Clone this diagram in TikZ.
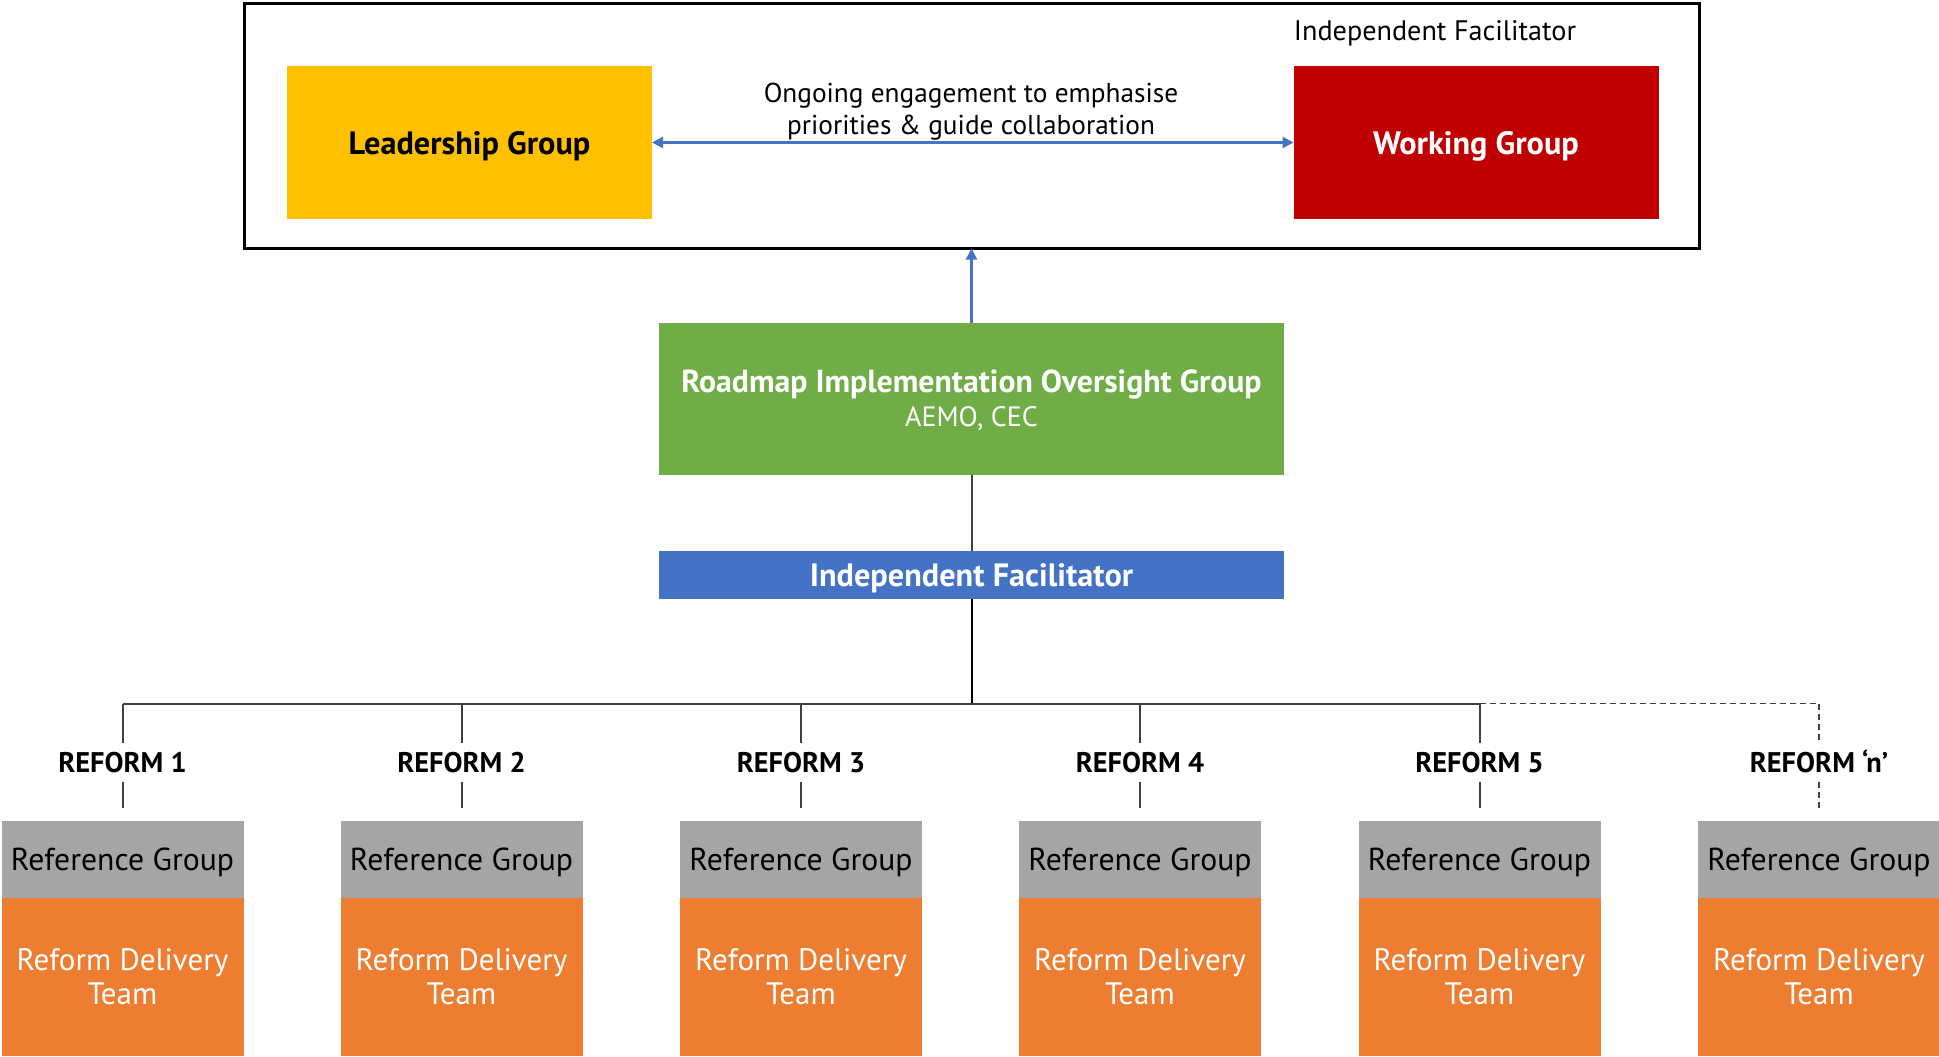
\documentclass[tikz,border=0pt]{standalone}
\usepackage{fontspec}
\setmainfont{PT Sans}
\usetikzlibrary{arrows.meta}
\definecolor{cgold}{HTML}{FFC000}
\definecolor{cred}{HTML}{C00000}
\definecolor{cgreen}{HTML}{70AD47}
\definecolor{cblue}{HTML}{4472C4}
\definecolor{cgray}{HTML}{A5A5A5}
\definecolor{corange}{HTML}{ED7D31}
\definecolor{cline}{HTML}{404040}
\begin{document}
\begin{tikzpicture}[x=1pt,y=-1pt,
  box/.style={inner sep=0pt, outer sep=0pt, align=center},
  boldtxt/.style={font=\fontsize{32.3}{36}\selectfont\bfseries, text depth=0pt},
  bluearrow/.style={draw=cblue, line width=2.2pt, {Triangle[length=11pt,width=11pt]}-{Triangle[length=11pt,width=11pt]}},
  conn/.style={draw=cline, line width=2pt},
  dconn/.style={draw=cline, line width=1.8pt, dash pattern=on 6pt off 4pt},
  reflabel/.style={box, font=\fontsize{28.4}{32}\selectfont\bfseries, minimum height=39pt, minimum width=140pt, text height=20pt, text depth=0pt},
  refgroup/.style={box, fill=cgray, minimum width=242pt, minimum height=77pt, font=\fontsize{31.7}{34}\selectfont, text=black, text depth=0pt},
  deliv/.style={box, fill=corange, minimum width=242pt, minimum height=158pt, font=\fontsize{31}{34}\selectfont, text=white},
]
\useasboundingbox (0,0) rectangle (1939,1057);
\fill[white] (0,0) rectangle (1939,1057);

% top frame
\node[box, draw=black, line width=3pt, minimum width=1455pt, minimum height=245pt] (outer) at (971.5,126) {};
\node[box, font=\fontsize{28.2}{32}\selectfont] (ifactop) at (1435,33) {Independent Facilitator};
\node[box, boldtxt, fill=cgold, minimum width=365pt, minimum height=153pt] (lead) at (469.5,142.5) {Leadership Group};
\node[box, boldtxt, fill=cred, text=white, minimum width=365pt, minimum height=153pt] (work) at (1476,142.5) {Working Group};
\draw[bluearrow] (lead.east) -- (work.west);
\node[box, font=\fontsize{27.3}{32}\selectfont] (eng) at (971,112) {Ongoing engagement to emphasise\\priorities \& guide collaboration};

% oversight group
\node[box, fill=cgreen, text=white, minimum width=625pt, minimum height=152pt, font=\fontsize{28}{34}\selectfont, text depth=0pt] (riog) at (971.5,398.5)
  {{\fontsize{31.8}{34}\selectfont\bfseries Roadmap Implementation Oversight Group}\\AEMO, CEC};
\draw[bluearrow, {-Triangle[length=11pt,width=11pt]}] (riog.north) -- (outer.south);

% facilitator
\node[box, boldtxt, fill=cblue, text=white, minimum width=625pt, minimum height=48pt] (ifac) at (971.5,575) {Independent Facilitator};
\draw[conn] (riog.south) -- (ifac.north);

% bus
\coordinate (bc) at (971.5,703.5);
\draw[conn, draw=black] (ifac.south) -- (bc);
\foreach \i/\x/\lab in {1/122.5/{REFORM 1},2/461.5/{REFORM 2},3/801/{REFORM 3},4/1140/{REFORM 4},5/1479.5/{REFORM 5},6/1819/{REFORM ‘n’}}{
  \coordinate (b\i) at (\x,703.5);
  \node[reflabel] (rf\i) at (\x,762.5) {\lab};
  \node[refgroup] (rg\i) at (\x,859.5) {Reference Group};
  \node[deliv, anchor=north] (rd\i) at (rg\i.south) {Reform Delivery\\Team};
}
\draw[conn] (b1) -- (b5);
\foreach \i in {1,...,5}{
  \draw[conn] (b\i) -- (rf\i.north);
  \draw[conn, shorten >=13pt] (rf\i.south) -- (rg\i.north);
}
\draw[dconn] (b5) -- (b6) -- (rf6.north);
\draw[dconn, shorten >=13pt] (rf6.south) -- (rg6.north);
\end{tikzpicture}
\end{document}
